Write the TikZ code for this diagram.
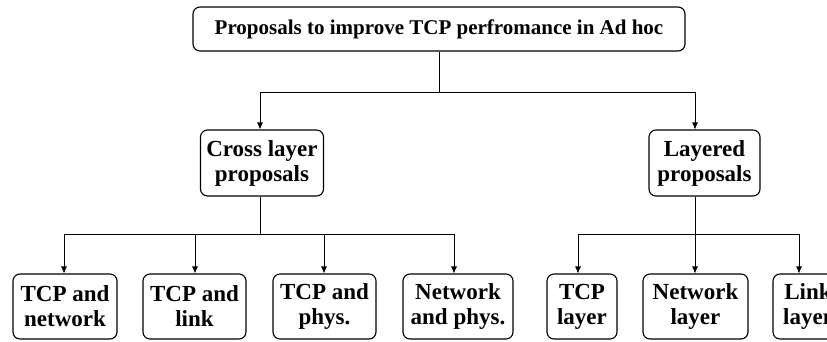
\documentclass[tikz,border=0pt]{standalone}
\usepackage{fontspec}
\setmainfont{Liberation Serif}
\usetikzlibrary{arrows.meta}
\begin{document}
\begin{tikzpicture}[x=1pt,y=-1pt,
  box/.style={draw,line width=1.1pt,rounded corners=7pt,align=center,
    font=\bfseries\fontsize{23}{25}\selectfont,inner sep=0pt},
  arr/.style={-{Latex[length=7pt,width=6pt]},line width=0.8pt},
  ln/.style={line width=0.8pt}]
\clip (0,0) rectangle (827,341);
\node[box,minimum width=492,minimum height=44,font=\bfseries\fontsize{21}{24}\selectfont] (top) at (439,29) {Proposals to improve TCP perfromance in Ad hoc};
\node[box,minimum width=123,minimum height=66] (cross) at (262,163) {Cross layer\\proposals};
\node[box,minimum width=111,minimum height=66] (lay) at (704.5,163) {Layered\\proposals};
\node[box,minimum width=104,minimum height=65] (b1) at (65,306.5) {TCP and\\network};
\node[box,minimum width=103,minimum height=65] (b2) at (194.5,306.5) {TCP and\\link};
\node[box,minimum width=103,minimum height=65] (b3) at (324.5,306.5) {TCP and\\phys.};
\node[box,minimum width=110,minimum height=65] (b4) at (458,306.5) {Network\\and phys.};
\node[box,minimum width=70,minimum height=65] (b5) at (582,306.5) {TCP\\layer};
\node[box,minimum width=105,minimum height=65] (b6) at (695.5,306.5) {Network\\layer};
\node[box,minimum width=70,minimum height=65] (b7) at (808,306.5) {Link\\layer};
\coordinate (jt) at (439,92);
\coordinate (jc) at (260,234);
\coordinate (jl) at (695,234);
\draw[ln] (top.south) -- (jt);
\draw[arr] (jt) -| ([xshift=-2]cross.north);
\draw[arr] (jt) -| ([xshift=-9.5]lay.north);
\draw[ln] ([xshift=-2]cross.south) -- (jc);
\draw[arr] (jc) -| ([xshift=-1]b1.north);
\draw[arr] (jc) -| ([xshift=0.5]b2.north);
\draw[arr] (jc) -| ([xshift=-0.5]b3.north);
\draw[arr] (jc) -| ([xshift=-4]b4.north);
\draw[ln] ([xshift=-9.5]lay.south) -- (jl);
\draw[arr] (jl) -| ([xshift=-4]b5.north);
\draw[arr] (jl) -| ([xshift=-0.5]b6.north);
\draw[arr] (jl) -| ([xshift=-9]b7.north);
\end{tikzpicture}
\end{document}
